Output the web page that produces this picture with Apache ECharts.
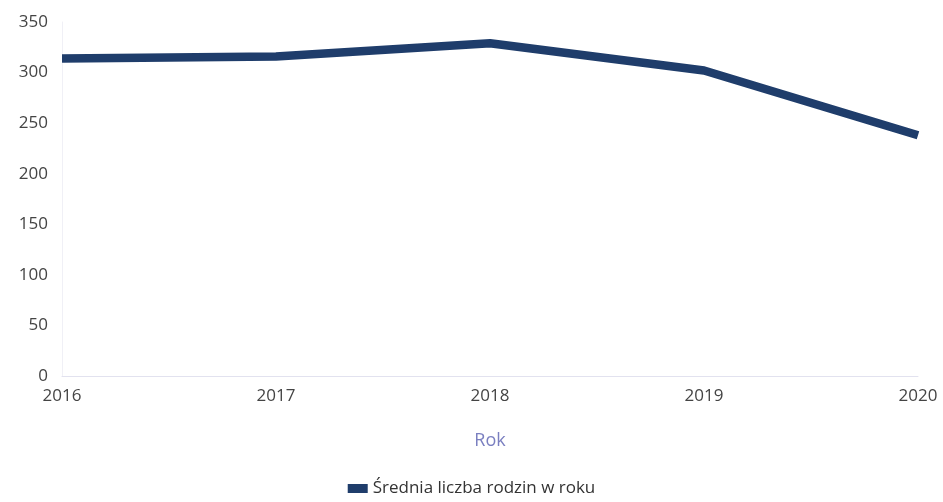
<!DOCTYPE html>
<html><head><meta charset="utf-8">
<script src="https://cdn.jsdelivr.net/npm/echarts@6/dist/echarts.min.js"></script>
<style>html,body{margin:0;padding:0;background:#fff}#c{width:943px;height:502px}</style>
</head><body><div id="c"></div>
<script>
const categories = ['2016','2017','2018','2019','2020'];
const values = [314, 316, 329, 302, 238];
const seriesName = 'Średnia liczba rodzin w roku';
const xAxisName = 'Rok';

const chart = echarts.init(document.getElementById('c'));
chart.setOption({
  animation: false,
  textStyle: {fontFamily: 'Open Sans'},
  grid: {left: 62, right: 25, top: 22, bottom: 126},
  xAxis: {
    type: 'category', data: categories, boundaryGap: false,
    name: xAxisName, nameLocation: 'middle', nameGap: 56,
    nameTextStyle: {color: '#7a7fc0', fontSize: 18},
    axisLine: {lineStyle: {color: '#e2e2ef', width: 1}},
    axisTick: {show: false},
    axisLabel: {color: '#444', fontSize: 17, margin: 12}
  },
  yAxis: {
    type: 'value', min: 0, max: 350, interval: 50,
    axisLine: {show: true, lineStyle: {color: '#f0f0f6'}},
    axisTick: {show: false},
    splitLine: {show: false},
    axisLabel: {color: '#444', fontSize: 17, margin: 14}
  },
  legend: {
    bottom: 0, left: 'center',
    itemWidth: 20, itemHeight: 9, icon: 'rect',
    textStyle: {color: '#333', fontSize: 17},
    data: [seriesName]
  },
  series: [{
    name: seriesName, type: 'line', data: values,
    symbol: 'none',
    lineStyle: {color: '#1f3d6b', width: 8.5, cap: 'butt', join: 'round'},
    itemStyle: {color: '#1f3d6b'}
  }]
});
</script></body></html>
